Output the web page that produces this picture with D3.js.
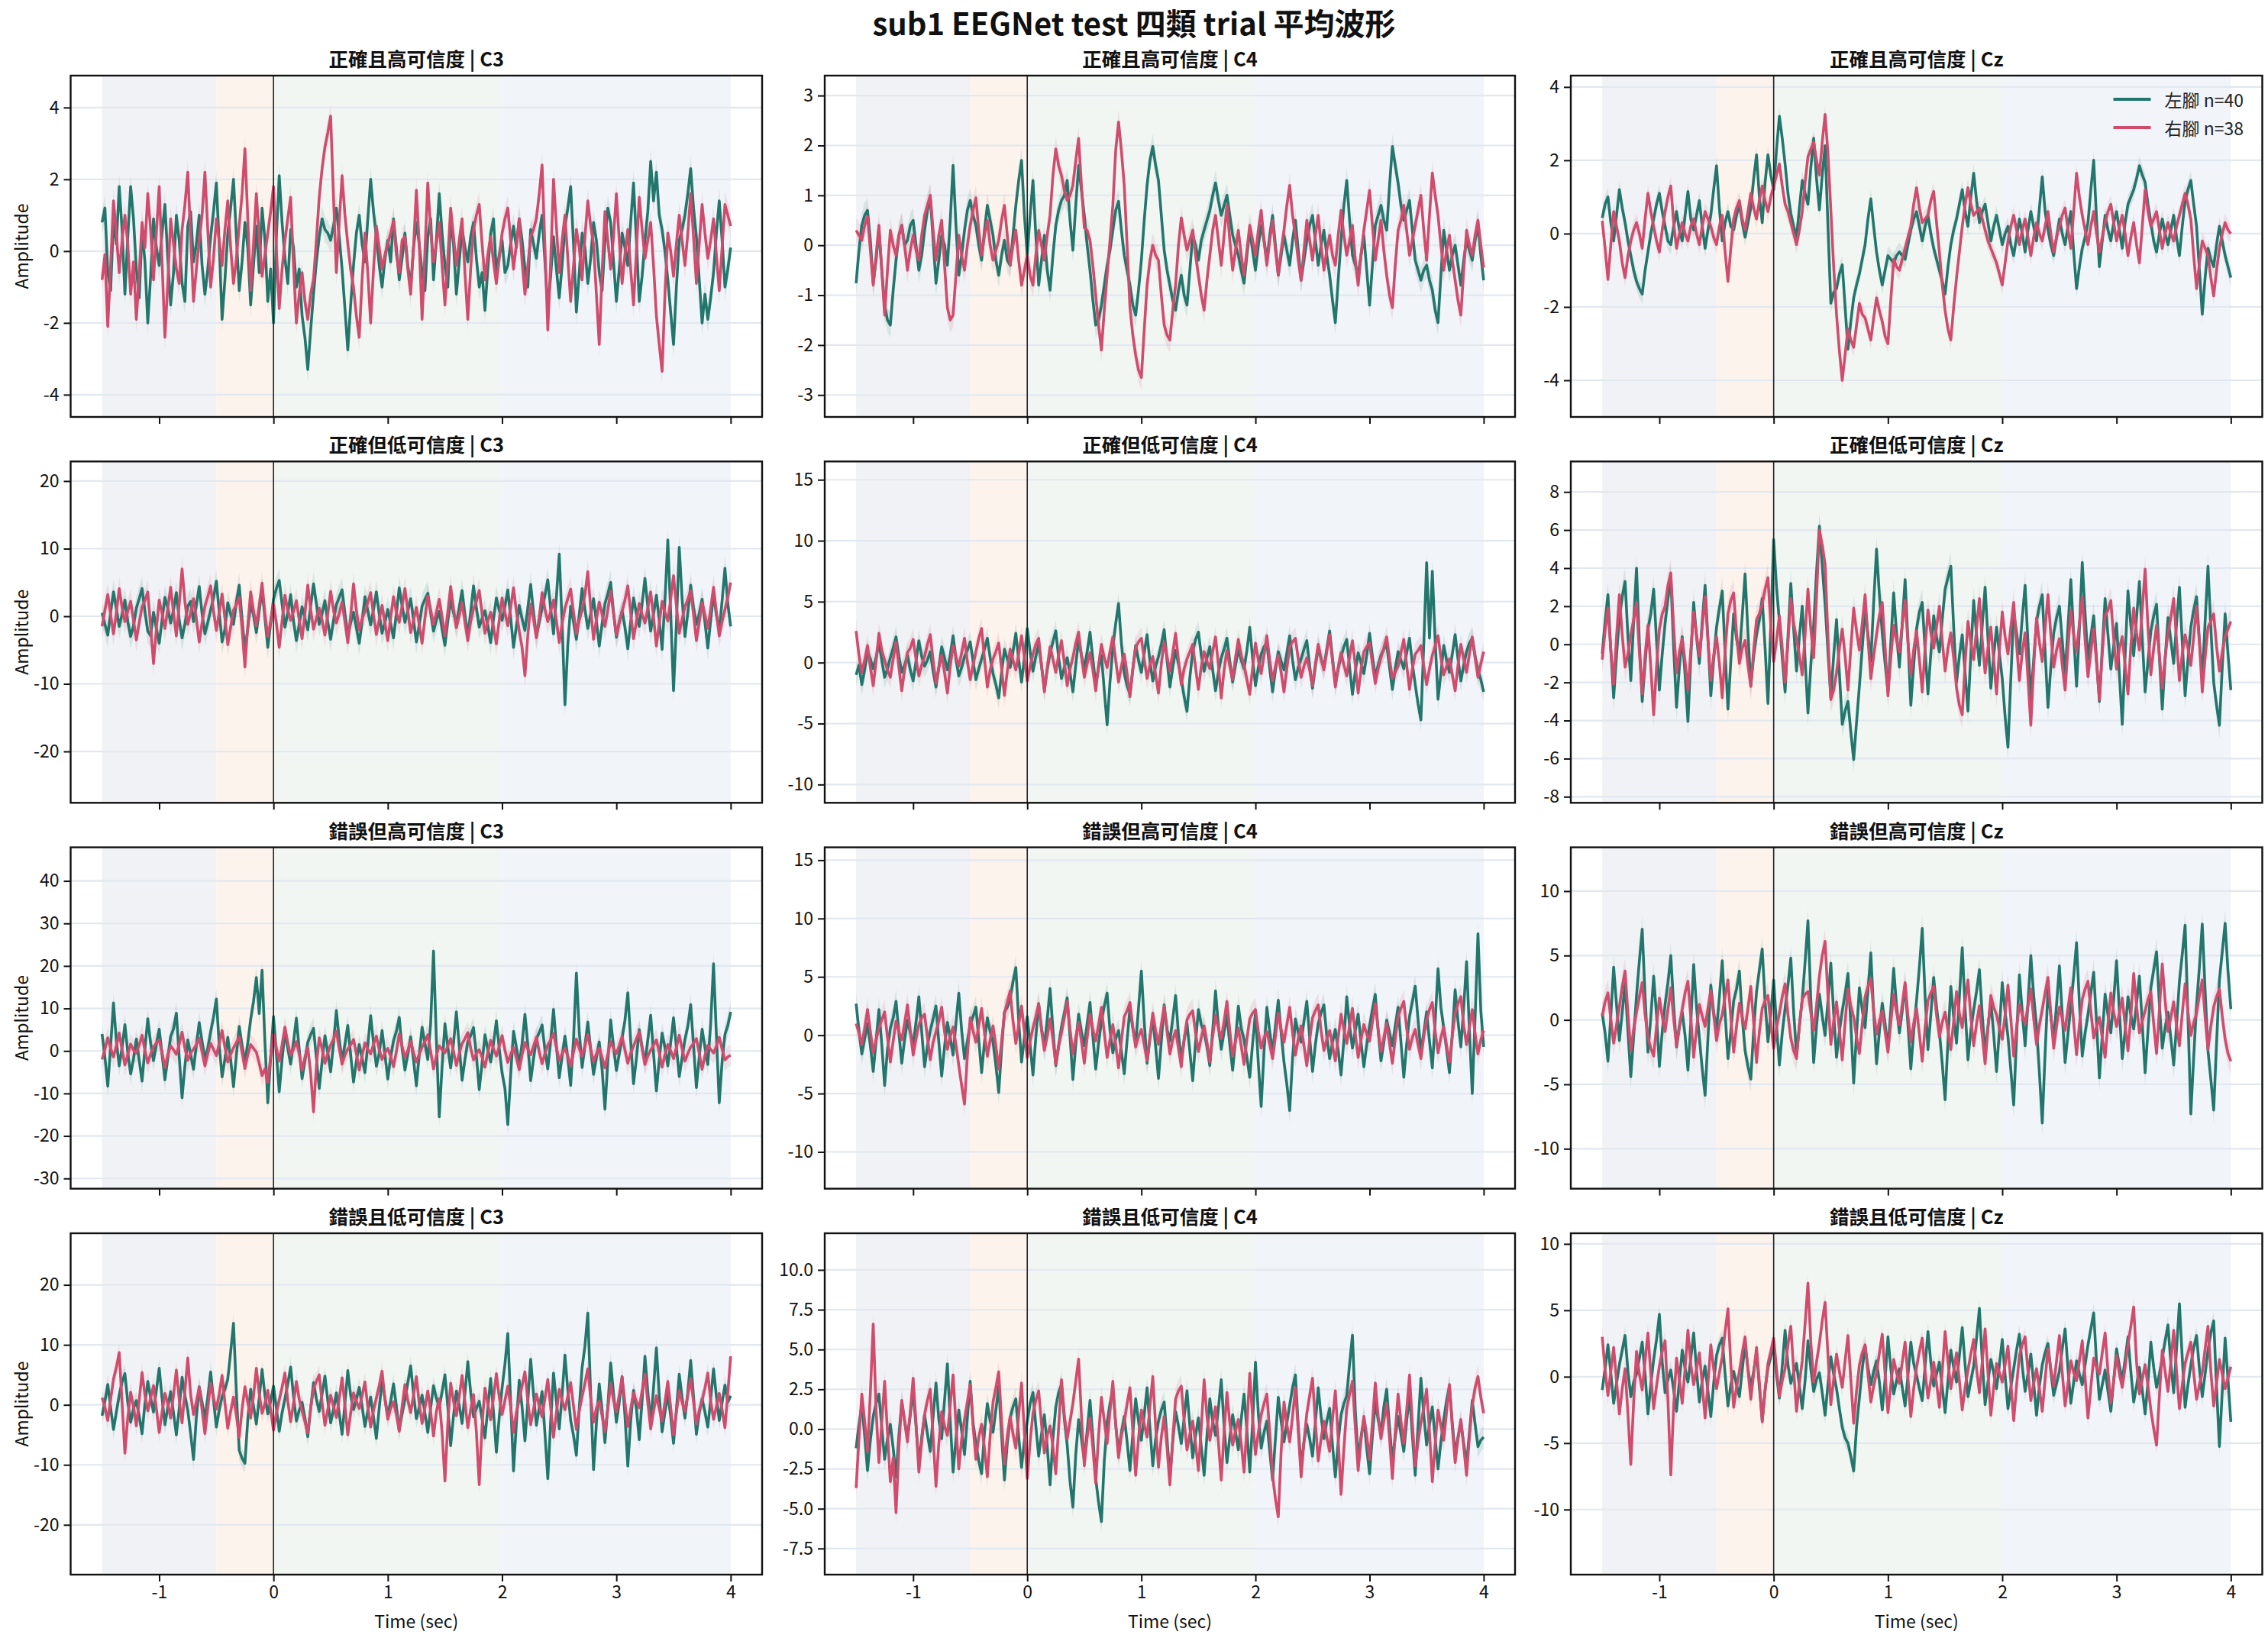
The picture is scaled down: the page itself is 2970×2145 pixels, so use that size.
<!DOCTYPE html>
<html>
<head>
<meta charset="utf-8">
<script src="https://cdn.jsdelivr.net/npm/d3@7"></script>
<style>
  body { margin: 0; background: #fff; }
  svg { display: block; }
  text { font-family: "Noto Sans CJK TC", "Noto Sans", sans-serif; }
</style>
</head>
<body>
<div id="chart"></div>
<script>
// categories / channels
var categories = ["正確且高可信度", "正確但低可信度", "錯誤但高可信度", "錯誤且低可信度"];
var channels = ["C3", "C4", "Cz"];
var seriesNames = ["左腳 n=40", "右腳 n=38"];

// sample times (sec), one every 0.025 s from -1.5 to 4.0
var times = d3.range(221).map(function(i){ return -1.5 + i * 0.025; });
var xTicks = [-1, 0, 1, 2, 3, 4];
var phaseEdges = [-1.5, -0.5, 0, 2, 4];

// y limits per panel, row by row (C3, C4, Cz)
var yLimits = [
  [-4.62, 4.89], [-3.44, 3.40], [-5.0, 4.31],
  [-27.6, 22.9], [-11.5, 16.5], [-8.32, 9.6],
  [-32.4, 47.9], [-13.15, 16.1], [-13.1, 13.4],
  [-28.3, 28.6], [-9.14, 12.3], [-14.9, 10.8]
];
var yTicks = [
  [-4, -2, 0, 2, 4], [-3, -2, -1, 0, 1, 2, 3], [-4, -2, 0, 2, 4],
  [-20, -10, 0, 10, 20], [-10, -5, 0, 5, 10, 15], [-8, -6, -4, -2, 0, 2, 4, 6, 8],
  [-30, -20, -10, 0, 10, 20, 30, 40], [-10, -5, 0, 5, 10, 15], [-10, -5, 0, 5, 10],
  [-20, -10, 0, 10, 20], [-7.5, -5, -2.5, 0, 2.5, 5, 7.5, 10], [-10, -5, 0, 5, 10]
];
// standard error half width per panel
var semL = [0.35, 0.25, 0.25, 1.8, 0.9, 0.7, 2.5, 1.0, 1.0, 1.6, 0.7, 0.7];
var semR = [0.35, 0.25, 0.25, 1.8, 0.9, 0.7, 2.5, 1.0, 1.0, 1.6, 0.7, 0.7];

// ---- row 1: 正確且高可信度 ----
var l_r1_c3 = [0.8,1.2,-0.6,-1.1,0.9,0.2,1.8,0.6,-1.2,0.4,1.8,0.9,-0.5,-1.3,0.6,-0.3,-2.0,-0.7,0.9,0.1,
  -0.4,0.5,1.3,-0.2,-1.5,-0.6,1.0,0.3,-0.9,-1.4,0.7,1.1,-0.3,0.2,1.0,-0.4,-1.2,-0.5,0.4,1.1,
  1.9,0.2,-1.9,-0.8,0.5,1.2,2.0,0.4,-1.1,-0.3,0.8,0.1,-1.5,-0.4,0.7,-0.6,1.2,0.3,-1.4,-0.5,
  -2.0,0.4,2.1,0.8,-0.2,-0.9,0.6,0.1,-1.0,-0.5,-1.8,-2.4,-3.3,-2.2,-1.2,-0.3,0.4,0.9,0.6,0.5,
  0.3,0.7,1.2,0.4,-0.5,-1.6,-2.75,-1.5,-0.4,0.5,1.0,0.2,-0.3,0.9,2.0,1.1,0.4,-0.4,-1.0,-0.2,
  0.3,-0.3,0.9,0.1,-0.8,-0.2,0.5,-0.4,-1.0,0.1,0.8,0.2,-0.6,-1.1,0.4,0.9,-0.8,0.3,1.6,0.5,
  -0.4,-1.0,0.9,0.2,-1.2,-0.3,0.6,0.1,-0.3,0.4,0.8,-0.2,-1.0,-0.6,-1.65,-0.5,0.5,0.9,-0.6,-0.1,
  0.3,-0.6,-0.4,0.2,0.7,0.1,0.9,0.3,-0.5,-1.0,0.6,0.2,-0.2,0.5,1.0,-0.3,-1.6,-0.7,0.4,-0.5,
  -1.3,-0.4,0.7,1.2,1.8,0.2,-1.7,-0.6,0.5,0.1,-0.9,-0.2,0.8,0.3,-0.6,-1.1,0.3,1.2,0.8,-0.3,
  -1.4,-0.5,0.5,0.1,-0.4,0.8,1.9,0.3,-1.4,-0.7,0.3,1.1,2.5,1.4,2.2,1.0,0.6,0.0,-0.8,-1.7,
  -2.6,-1.0,0.3,0.6,1.0,1.6,2.3,1.2,0.4,-0.8,-2.0,-1.2,-1.9,-1.3,-0.6,0.5,1.4,0.3,-1.0,-0.5,0.1];
var r_r1_c3 = [-0.8,-0.1,-2.1,-0.4,1.4,0.5,-0.6,0.3,1.0,0.2,-1.2,-0.3,-1.9,-0.6,0.8,0.1,1.6,0.6,-0.8,0.5,
  1.8,-0.3,-2.4,-0.9,0.9,0.2,-0.5,-0.9,0.6,1.3,2.2,0.4,-1.4,-0.5,0.3,1.0,2.2,0.6,-1.0,-0.2,
  0.9,0.3,-0.4,0.6,1.4,0.1,-0.9,-0.2,0.7,1.6,2.85,0.9,-1.1,0.2,1.6,0.4,-0.7,-0.1,0.5,1.1,
  1.8,0.1,-1.6,-0.5,0.3,0.9,1.5,-0.4,-2.0,-1.2,-0.6,-1.4,-1.9,-1.2,-0.8,0.3,1.5,2.3,2.9,3.3,
  3.76,1.5,-0.6,0.8,2.1,1.0,0.2,-0.5,-1.0,-1.8,-2.4,-0.8,0.5,-0.6,-2.0,-0.5,0.7,0.1,-0.5,-0.1,
  0.2,0.5,0.85,-0.1,-0.6,0.3,0.4,-0.5,-1.2,0.1,1.7,0.2,-1.9,0.0,1.9,0.6,-0.3,0.2,0.8,-0.4,
  -1.5,-0.2,1.2,0.4,-0.4,0.3,0.9,-0.6,-1.9,-0.5,0.6,1.0,1.3,0.2,-0.8,-0.1,0.4,-0.3,-0.9,-0.2,
  0.5,0.9,1.2,0.3,-0.5,0.2,0.9,-0.3,-1.2,-0.4,0.4,0.6,0.9,1.6,2.4,0.1,-2.2,-0.3,2.0,0.7,
  -0.6,0.3,1.0,-0.2,-1.4,-0.4,0.6,0.1,-0.8,0.4,1.4,0.7,0.2,-1.2,-2.6,-0.6,1.1,0.3,-0.5,0.4,
  1.6,0.3,-0.9,-0.1,0.6,-0.5,-1.5,0.0,1.5,0.6,-0.2,0.3,0.8,-0.4,-1.8,-2.6,-3.35,-1.2,0.5,0.0,
  -0.7,0.2,1.0,0.3,-0.4,0.5,1.6,0.4,-0.9,0.2,1.3,0.5,-0.2,0.3,0.9,-0.1,-1.1,0.1,1.3,1.0,0.7];
var l_r1_c4 = [-0.76,-0.1,0.4,0.6,0.7,0.1,-0.76,-0.3,0.3,-0.5,-1.2,-1.5,-1.6,-0.9,-0.3,0.2,0.4,0.0,0.1,0.4,
  0.5,0.0,-0.5,-0.2,0.3,0.7,0.97,0.1,-0.76,-0.3,0.2,0.0,-0.4,0.5,1.6,0.4,-0.6,-0.2,0.3,0.7,
  0.9,0.6,0.4,0.0,-0.3,0.3,0.8,0.5,0.2,-0.3,-0.6,-0.2,0.1,-0.3,-0.4,0.2,0.8,1.3,1.7,0.6,
  -0.2,0.6,1.3,0.2,-0.8,-0.3,0.2,-0.5,-0.9,-0.2,0.4,0.7,0.9,1.0,1.3,0.5,-0.1,0.8,1.6,1.1,
  0.6,0.0,-0.5,-1.1,-1.6,-1.5,-1.2,-0.8,-0.4,-0.1,0.3,0.7,0.88,0.3,-0.2,-0.5,-0.8,-1.2,-1.4,-0.9,
  -0.3,0.5,1.2,1.7,1.98,1.6,1.3,0.6,-0.1,-0.5,-0.8,-1.1,-1.3,-0.9,-0.6,-1.0,-1.2,-0.5,0.2,0.0,
  -0.3,0.1,0.3,0.5,0.7,1.0,1.25,0.9,0.6,0.8,1.0,0.6,0.2,0.0,-0.2,-0.5,-0.76,-0.2,0.3,-0.1,
  -0.5,0.0,0.4,0.1,-0.3,0.2,0.6,0.0,-0.6,-0.2,0.2,-0.1,-0.4,0.1,0.5,-0.1,-0.7,-0.3,0.1,0.4,
  0.6,0.1,-0.4,0.0,0.3,-0.2,-0.6,-1.1,-1.55,-0.7,0.1,0.8,1.3,0.5,-0.2,-0.4,-0.6,-0.2,0.2,-0.5,
  -1.2,-0.4,0.4,0.6,0.8,0.5,0.3,1.2,1.98,1.6,1.25,0.8,0.5,0.7,0.9,0.3,-0.3,-0.5,-0.7,-0.5,
  -0.4,-0.7,-0.9,-1.3,-1.55,-0.6,0.3,-0.1,-0.5,-0.2,0.0,-0.4,-0.8,-0.3,0.1,-0.1,-0.3,0.1,0.4,-0.2,-0.7];
var r_r1_c4 = [0.3,0.2,0.1,0.4,0.57,-0.1,-0.8,-0.2,0.4,-0.5,-1.4,-0.5,0.3,0.0,-0.2,0.2,0.4,0.0,-0.5,-0.1,
  0.2,-0.1,-0.3,0.2,0.6,0.8,1.0,0.3,-0.3,0.2,0.5,-0.4,-1.25,-1.5,-1.4,-0.6,0.2,-0.2,-0.5,0.0,
  0.4,0.7,0.95,0.3,-0.2,0.2,0.5,0.0,-0.3,-0.1,0.1,0.5,0.8,0.2,-0.4,0.0,0.3,-0.3,-0.8,-0.5,
  -0.2,-0.6,-0.8,-0.2,0.3,0.0,-0.3,0.2,0.6,1.4,1.93,1.6,1.4,1.1,0.9,1.0,1.2,1.7,2.14,1.2,
  0.35,0.3,0.1,-0.4,-1.0,-1.6,-2.1,-1.3,-0.6,0.1,0.8,1.9,2.47,1.9,1.2,0.0,-1.25,-1.8,-2.2,-2.5,
  -2.65,-1.7,-0.8,-0.3,0.0,-0.2,-0.3,-1.0,-1.6,-1.8,-1.9,-1.3,-0.8,0.0,0.55,0.2,-0.1,0.1,0.3,-0.2,
  -0.6,-1.0,-1.3,-0.7,-0.2,0.3,0.6,0.1,-0.4,0.2,0.8,0.1,-0.5,-0.1,0.3,-0.2,-0.6,-0.1,0.4,0.1,
  -0.2,0.3,0.7,0.1,-0.4,0.1,0.5,-0.1,-0.6,-0.1,0.3,0.8,1.2,0.6,0.2,-0.3,-0.7,-0.1,0.5,0.1,
  -0.3,0.2,0.6,0.0,-0.5,-0.1,0.2,-0.2,-0.4,0.2,0.7,0.2,-0.2,0.1,0.4,-0.3,-0.8,-0.2,0.3,0.7,
  1.1,0.4,-0.3,0.1,0.5,-0.1,-0.6,-1.0,-1.25,-0.4,0.3,0.5,0.8,0.3,-0.2,0.1,0.4,0.7,1.0,0.3,
  -0.3,0.6,1.45,1.0,0.6,0.0,-0.5,-0.1,0.2,-0.3,-0.7,-1.1,-1.4,-0.5,0.3,0.0,-0.2,0.2,0.5,0.0,-0.45];
var l_r1_cz = [0.43,0.8,1.0,0.3,-0.2,0.5,1.2,0.7,0.3,-0.2,-0.6,-1.0,-1.3,-1.5,-1.65,-1.0,-0.5,0.0,0.4,0.8,
  1.1,0.6,0.2,-0.2,-0.3,0.2,0.6,0.1,-0.2,0.5,1.15,0.4,0.1,0.5,0.9,0.2,-0.4,0.1,0.5,1.2,
  1.85,0.7,-0.2,0.3,0.6,0.2,0.1,0.5,0.8,0.3,-0.1,0.3,0.7,1.5,2.15,1.0,0.3,1.4,2.15,1.6,
  1.2,2.3,3.2,2.6,1.9,1.1,0.55,0.2,-0.1,0.7,1.45,1.1,0.8,1.8,2.6,1.5,0.65,1.6,2.4,0.2,
  -1.9,-1.6,-1.5,-1.1,-0.85,-2.0,-3.15,-2.4,-1.75,-1.4,-1.1,-0.7,-0.3,0.4,0.95,0.2,-0.5,-1.0,-1.4,-1.0,
  -0.6,-0.7,-0.8,-0.6,-0.5,-0.6,-0.7,-0.3,0.1,0.4,0.6,0.2,-0.2,0.2,0.5,0.0,-0.4,-0.7,-1.0,-1.3,
  -1.65,-0.9,-0.3,0.1,0.4,0.8,1.2,0.6,0.2,1.0,1.65,0.9,0.3,0.6,0.8,0.3,-0.2,0.2,0.5,0.1,
  -0.3,0.0,0.2,-0.3,-0.6,-0.1,0.4,0.0,-0.5,0.1,0.6,0.2,-0.2,0.7,1.55,0.6,0.1,-0.3,-0.6,-0.1,
  0.4,0.0,-0.3,0.2,0.6,-0.5,-1.5,-0.9,-0.4,-0.1,0.3,1.2,2.0,0.4,-0.9,-0.2,0.5,0.1,-0.2,0.3,
  0.6,0.1,-0.4,0.3,0.8,1.0,1.2,1.5,1.85,1.6,1.4,0.8,0.3,-0.2,-0.5,0.0,0.4,0.0,-0.3,0.1,
  0.5,-0.1,-0.6,0.2,0.9,1.2,1.45,0.8,0.2,-1.0,-2.2,-1.2,-0.4,-0.7,-0.9,-0.3,0.2,-0.2,-0.6,-0.9,-1.2];
var r_r1_cz = [0.35,-0.4,-1.25,-0.3,0.6,0.2,-0.2,-0.8,-1.2,-0.6,-0.2,0.1,0.3,0.0,-0.4,0.4,1.1,0.6,0.2,-0.2,
  -0.5,0.1,0.6,1.0,1.3,0.3,-0.4,0.0,0.3,0.0,-0.2,0.2,0.4,0.0,-0.3,0.2,0.6,0.4,0.2,-0.1,
  -0.3,0.2,0.5,-0.5,-1.3,-0.4,0.4,0.7,0.9,0.4,0.1,0.6,1.1,0.7,0.4,0.9,1.3,0.9,0.6,1.0,
  1.3,1.6,1.9,1.3,0.8,0.6,0.3,0.0,-0.3,0.1,0.6,1.4,2.1,2.3,2.5,2.0,1.6,2.5,3.25,2.2,
  0.65,-0.9,-2.2,-3.2,-4.0,-3.3,-2.6,-2.9,-3.1,-2.5,-1.9,-2.2,-2.3,-2.6,-2.9,-2.3,-1.75,-2.1,-2.4,-2.8,
  -3.0,-1.8,-0.7,-0.9,-1.0,-0.7,-0.4,-0.1,0.2,0.8,1.25,0.7,0.3,0.4,0.5,0.9,1.15,0.3,-0.5,-1.4,
  -2.1,-2.6,-2.9,-2.0,-1.2,-0.5,0.2,0.8,1.25,0.8,0.5,0.6,0.7,0.4,0.1,-0.2,-0.4,-0.6,-0.8,-1.1,
  -1.4,-0.8,-0.2,0.2,0.5,0.1,-0.3,0.1,0.4,-0.1,-0.6,-0.1,0.3,0.0,-0.2,0.2,0.6,0.0,-0.5,-0.1,
  0.2,0.5,0.7,0.1,-0.4,0.6,1.65,1.0,0.5,0.1,-0.3,0.2,0.6,0.0,-0.5,-0.1,0.3,0.6,0.8,0.3,
  -0.2,0.2,0.5,0.0,-0.6,-0.1,0.3,-0.3,-0.8,0.2,1.2,0.6,0.2,0.4,0.6,0.1,-0.4,0.0,0.3,0.0,
  -0.2,0.2,0.5,0.8,1.1,0.8,0.4,-0.6,-1.5,-0.8,-0.2,-0.4,-0.6,-1.2,-1.7,-1.0,-0.4,0.0,0.3,0.1,0.0];

// ---- row 2: 正確但低可信度 ----
var l_r2_c3 = [0.5,-1.2,-2.8,0.6,3.6,1.1,-1.5,0.3,2.4,-0.8,-3.0,-1.4,1.2,2.6,4.1,0.7,-2.2,-2.9,0.6,-1.8,
  -4.0,-0.5,2.8,1.2,-1.0,0.9,3.5,-0.6,-3.2,-1.1,1.5,2.2,-0.8,1.6,4.4,0.4,-2.6,-0.9,0.9,2.7,
  5.2,0.6,-3.8,-1.9,2.0,0.3,-1.2,2.1,4.6,-0.4,-5.1,-1.8,1.8,0.2,-2.4,0.8,3.9,-0.3,-4.6,-1.0,
  2.5,4.1,5.3,1.8,-1.6,0.5,3.2,-0.7,-3.6,-1.2,1.4,-0.3,-2.0,1.5,4.8,1.9,-1.2,0.4,2.3,-0.9,
  -3.4,-0.6,1.7,2.8,3.9,0.4,-2.8,-1.0,0.6,-1.7,-4.0,-0.8,2.9,0.8,-1.3,1.0,3.6,0.3,-2.5,-0.9,
  1.0,-1.1,-3.2,0.4,4.2,1.6,-0.9,0.8,2.6,-0.5,-3.8,-1.3,1.5,2.5,3.4,0.5,-2.2,-0.6,0.7,-1.9,
  -4.3,-0.7,2.4,0.5,-1.1,1.3,3.8,0.2,-2.9,0.6,4.5,1.2,-1.6,-0.3,0.8,-1.4,-3.9,-0.4,2.7,0.9,
  -0.6,1.5,3.9,-0.2,-4.6,-1.5,1.6,-0.4,-2.1,1.2,4.7,0.6,-3.0,-0.9,1.2,3.1,5.4,1.1,-2.6,2.8,
  9.2,-1.0,-13.1,-4.2,1.5,-0.8,-3.4,0.2,4.1,1.0,-1.8,0.3,2.6,-0.7,-4.4,-1.1,1.9,3.3,5.0,0.6,
  -3.1,-0.9,0.8,-1.6,-4.8,-0.8,2.7,0.4,-1.5,1.8,5.6,1.4,-2.2,0.3,3.1,-0.6,-4.9,2.4,11.3,0.5,
  -11.0,-1.2,10.2,2.6,-3.0,0.5,4.6,1.3,-1.2,0.4,2.5,-0.9,-4.7,-0.6,3.3,0.2,-2.1,2.3,7.1,1.8,-1.5];
var r_r2_c3 = [-1.5,0.9,3.2,0.2,-2.6,0.5,4.1,1.3,-0.8,0.7,2.2,-0.6,-3.5,-0.9,1.4,2.3,3.6,-1.5,-7.0,-1.9,
  2.4,0.4,-1.8,1.1,4.3,0.6,-2.9,1.8,7.0,2.1,-1.2,0.5,2.6,-0.4,-3.8,-1.0,1.5,2.9,4.5,0.8,
  -2.1,0.5,3.3,-0.3,-4.2,-1.6,0.9,1.7,2.8,-1.9,-7.5,-1.4,3.6,0.8,-1.4,1.6,4.9,0.4,-3.0,-0.8,
  1.8,-1.0,-4.6,-0.7,3.1,0.9,-0.6,0.7,2.3,-0.5,-3.3,0.4,4.6,1.0,-1.9,-0.3,1.2,-0.6,-2.8,0.3,
  3.7,0.9,-1.0,0.4,2.1,-0.8,-3.9,0.1,4.8,0.9,-2.0,-0.4,0.7,2.0,3.5,0.2,-2.7,-0.5,1.6,-1.0,
  -3.6,-0.2,2.9,0.6,-0.9,1.5,4.1,0.8,-2.4,-0.6,1.3,-1.2,-4.0,-0.3,3.0,0.9,-1.2,0.6,2.5,-0.1,
  -2.9,0.6,4.4,1.1,-1.7,0.1,2.0,-0.9,-3.6,-0.8,1.1,2.2,3.8,0.4,-2.5,-0.7,0.6,-1.6,-4.1,-0.6,
  2.7,0.5,-1.4,1.3,4.2,0.7,-2.2,-4.6,-8.8,-2.9,1.8,-0.4,-3.2,-0.2,3.5,1.0,-0.8,0.7,2.4,-0.6,
  -3.9,-1.1,1.2,2.6,4.0,0.6,-2.6,-0.6,0.9,3.2,6.6,1.2,-3.4,-0.5,2.1,0.3,-1.5,0.9,3.7,0.4,
  -2.8,-0.9,0.7,2.4,4.5,0.5,-3.3,-0.8,1.9,0.3,-1.0,1.2,3.6,-0.1,-4.4,-1.0,2.2,0.6,-0.7,2.5,
  6.0,1.6,-2.5,-0.4,1.4,2.5,3.8,0.3,-3.6,-0.9,2.0,0.2,-1.8,1.1,4.3,0.6,-2.9,-0.8,1.0,2.8,5.0];
var l_r2_c4 = [-1.0,-0.2,-1.8,-0.6,0.9,0.3,-0.5,0.4,1.6,0.2,-1.2,-0.5,0.4,1.2,2.1,0.5,-0.8,-0.2,0.6,-0.6,
  -1.5,0.1,1.8,0.5,-0.3,0.2,0.9,-0.7,-2.0,-0.4,1.3,0.4,-0.6,0.6,2.2,0.3,-1.1,-0.4,0.5,1.0,
  1.7,0.1,-1.4,-0.5,0.3,1.1,2.0,0.4,-0.9,-1.8,-2.9,-0.8,1.1,0.3,-0.4,0.9,2.4,0.2,-1.6,0.4,
  2.8,0.9,-0.7,0.5,1.5,-0.3,-2.2,-0.6,0.8,1.7,2.6,0.4,-1.3,-0.4,0.4,-0.9,-2.4,-0.2,1.9,0.6,
  -0.5,0.9,2.5,0.3,-1.8,-0.4,0.6,-2.3,-5.1,-1.6,1.2,3.2,4.85,1.6,-0.9,-1.9,-2.6,-0.5,1.4,0.2,
  -0.8,0.8,2.3,0.1,-1.5,-0.3,0.5,1.5,2.7,0.2,-2.0,-0.4,1.0,-0.1,-1.3,-2.8,-4.0,-1.2,0.9,1.9,
  2.5,0.6,-0.7,0.4,1.3,-0.6,-2.3,-0.8,0.4,1.1,2.0,0.1,-1.6,-0.2,1.1,0.2,-0.5,1.0,2.9,0.3,
  -1.9,-0.4,0.7,1.3,1.6,-0.5,-2.4,-0.6,0.9,0.1,-0.6,0.8,2.2,0.2,-1.4,-0.4,0.3,1.1,1.8,-0.3,
  -2.1,-0.3,1.2,0.3,-0.4,1.1,2.6,0.4,-1.7,-0.5,0.5,1.3,1.9,-0.4,-2.6,-0.7,0.8,0.0,-0.9,0.6,
  2.4,0.5,-1.2,-0.2,0.6,1.1,1.5,-0.4,-2.2,-0.5,0.9,0.2,-0.5,0.8,2.0,-0.1,-1.8,-3.4,-4.7,1.5,
  8.2,2.0,7.5,1.8,-3.0,-0.9,1.4,0.2,-0.8,0.7,2.3,0.3,-1.5,-0.2,0.9,1.6,2.0,0.5,-0.6,-1.4,-2.4];
var r_r2_c4 = [2.6,0.6,-0.8,0.2,1.4,-0.4,-1.9,0.1,2.4,1.0,0.2,-0.6,-1.2,0.3,1.7,-0.4,-2.3,-0.6,0.8,1.2,
  1.9,0.3,-1.1,-0.2,0.5,1.5,2.3,0.2,-1.7,-0.4,0.6,-0.8,-2.5,-0.3,1.4,0.5,-0.3,0.8,2.0,0.1,
  -1.4,-0.2,0.9,2.0,2.8,0.3,-2.0,-0.6,0.3,0.9,1.6,-0.5,-2.7,-0.7,1.1,0.2,-0.6,0.7,2.2,0.4,
  -1.5,-0.3,0.7,1.5,2.0,-0.2,-2.4,-0.4,1.3,0.3,-0.8,0.6,1.8,0.0,-1.9,-0.5,0.4,1.6,2.5,0.5,
  -1.2,-0.1,0.8,-0.6,-2.3,-0.2,1.5,0.4,-0.4,0.9,2.1,0.2,-1.6,-0.3,0.7,-0.9,-2.8,-0.6,1.2,1.7,
  2.0,0.3,-1.3,-0.2,0.5,-1.0,-2.5,-0.1,1.7,0.5,-0.7,0.8,2.4,0.2,-1.8,-0.5,0.3,0.9,1.5,-0.4,
  -2.2,-0.3,0.9,0.1,-0.5,0.9,2.1,-0.2,-2.9,-0.6,1.0,-0.3,-1.4,0.4,1.9,0.6,-0.2,-1.4,-2.6,-0.4,
  1.6,0.2,-0.9,0.6,2.2,0.2,-1.5,-0.3,0.6,-0.8,-2.4,-0.5,1.3,1.7,2.0,0.3,-1.2,-0.3,0.4,-0.6,
  -1.9,-0.1,1.5,0.3,-0.6,0.9,2.3,0.1,-2.0,-0.4,0.8,-0.2,-1.1,0.5,1.8,-0.2,-2.5,-0.6,0.9,1.3,
  1.6,-0.1,-1.7,-0.5,0.4,1.2,2.1,0.3,-1.3,-0.8,-0.3,0.8,1.9,-0.2,-2.2,-0.5,0.7,1.0,1.4,-0.3,
  -1.8,-0.5,0.6,1.4,2.2,0.4,-1.0,-0.3,0.3,-1.0,-2.3,-0.2,1.5,0.3,-0.8,0.7,2.1,0.4,-1.2,-0.1,0.9];
var l_r2_cz = [-0.5,1.2,2.6,-0.3,-2.8,-0.6,1.4,2.5,3.3,0.4,-1.9,1.2,4.0,0.1,-3.0,-1.0,0.8,1.6,2.9,0.2,
  -2.4,-0.5,1.1,2.4,3.5,-0.2,-3.3,-1.2,0.4,-1.6,-4.05,-0.7,2.2,0.4,-1.0,1.2,3.1,0.3,-2.7,-0.8,
  0.9,1.9,2.8,-0.4,-3.4,-0.9,1.6,0.3,-0.6,1.5,3.7,0.6,-2.2,-0.6,0.5,1.3,2.4,-0.2,-3.1,1.0,
  5.5,3.0,1.2,-0.7,-2.5,0.4,3.2,0.8,-1.4,0.4,2.0,-0.8,-3.6,-1.1,1.0,3.8,6.2,4.1,2.1,-0.4,
  -2.8,-0.6,1.3,-1.5,-4.2,-3.5,-3.0,-4.6,-6.05,-4.1,-2.2,-0.2,1.8,0.5,-0.9,2.2,5.0,2.6,0.6,-1.0,
  -2.5,0.1,2.7,0.6,-1.2,1.1,3.4,0.2,-3.2,-1.1,0.8,1.7,2.2,-0.3,-2.6,-0.5,1.5,0.4,-0.4,1.3,
  2.9,3.5,4.1,0.9,-2.0,-0.6,0.5,-1.5,-3.5,-0.5,2.3,0.5,-1.1,1.0,3.0,0.3,-2.3,-0.6,0.9,-0.5,
  -1.8,-3.8,-5.4,-1.8,1.7,0.6,-0.5,1.4,3.1,0.1,-2.9,-0.8,1.2,2.0,2.6,-0.4,-3.3,-1.2,0.6,1.4,
  2.0,0.2,-1.6,0.9,3.4,0.5,-2.2,0.8,4.3,1.6,-0.8,0.4,1.5,-0.8,-3.0,-0.2,2.4,0.5,-1.3,-0.1,
  1.1,-1.6,-4.2,-0.6,2.8,1.0,-0.6,1.4,3.3,0.3,-2.5,-0.9,0.7,1.5,2.1,-0.7,-3.4,-0.8,1.4,0.2,
  -1.0,1.1,3.0,0.1,-2.7,-0.8,0.9,1.8,2.5,0.2,-1.8,1.2,4.1,0.9,-2.0,-3.2,-4.25,-1.2,1.6,-0.5,-2.4];
var r_r2_cz = [-0.8,0.7,1.9,-0.3,-2.1,0.4,2.6,0.5,-1.2,-0.5,0.5,1.3,2.2,-0.4,-2.6,-0.6,1.0,-1.2,-3.7,-1.2,
  0.8,1.6,2.0,3.1,3.75,0.9,-1.5,-0.4,0.3,-0.9,-2.4,-0.3,1.7,0.5,-0.6,0.9,2.5,0.2,-1.9,-0.6,
  0.4,-1.0,-2.8,-0.4,1.6,2.3,2.7,0.6,-1.0,-0.2,0.2,-1.1,-2.2,-0.3,1.3,1.6,2.1,2.9,3.5,1.0,
  -0.9,0.2,1.5,-0.2,-2.0,0.1,2.4,1.1,0.3,-0.6,-1.6,0.5,2.9,0.8,-0.7,2.5,6.0,5.2,4.2,0.4,
  -2.9,-2.4,-1.5,-0.2,0.8,-0.6,-2.4,-0.2,1.9,0.7,-0.3,1.1,2.6,0.3,-1.8,-0.6,0.5,1.5,2.2,-0.1,
  -2.7,-0.7,1.0,0.2,-0.4,1.0,2.3,0.1,-1.6,-0.3,0.7,-0.8,-2.5,-0.2,1.8,0.6,-0.2,0.9,2.0,0.2,
  -1.4,-0.2,0.6,-0.7,-2.3,-3.2,-3.7,-1.0,1.2,0.1,-0.8,0.8,2.4,0.2,-1.5,-0.2,0.9,-0.8,-2.6,-0.3,
  1.7,0.4,-0.5,0.9,2.2,0.0,-1.9,-0.4,0.6,-1.8,-4.25,-1.2,1.4,0.1,-0.9,0.8,2.6,0.5,-1.2,-0.3,
  0.3,-1.1,-2.4,-0.2,1.8,0.5,-0.4,1.1,2.5,0.2,-1.7,-0.4,0.8,-1.0,-2.9,-0.5,1.5,1.8,2.3,0.3,
  -1.3,-0.2,0.4,-1.1,-2.6,-0.1,1.9,0.6,-0.3,1.8,3.95,0.9,-1.6,-0.2,1.0,-0.6,-2.3,-0.7,0.6,1.4,
  2.4,0.2,-1.9,-0.5,0.5,-0.2,-1.1,0.4,2.0,0.1,-2.5,-0.7,0.9,1.2,1.6,-0.1,-1.4,-0.4,0.4,0.8,1.2];

// ---- row 3: 錯誤但高可信度 ----
var l_r3_c3 = [4.0,-1.5,-8.3,1.2,11.3,2.4,-3.5,0.8,6.2,-0.4,-5.4,-1.9,2.8,-2.2,-7.1,0.5,7.6,1.8,-2.3,1.6,
  5.1,-0.8,-6.8,-1.7,3.4,5.2,8.9,-1.4,-11.0,-3.5,2.6,-0.9,-4.3,1.3,6.7,2.2,-1.8,0.6,4.5,7.9,
  12.2,1.4,-6.1,-1.9,3.2,-2.0,-8.4,-1.1,5.8,1.3,-2.7,1.9,7.4,11.6,17.3,8.8,19.0,2.1,-12.2,-1.7,
  8.1,-0.6,-9.6,-2.0,4.4,0.7,-3.1,2.1,7.7,0.4,-6.5,-2.3,2.0,3.8,5.3,-1.6,-8.8,-2.5,3.6,-0.4,
  -4.9,1.8,9.5,2.8,-2.4,1.6,6.0,-0.9,-7.3,-2.4,1.5,-1.7,-5.1,1.4,8.3,1.9,-3.6,-0.5,4.8,-0.8,
  -6.6,-1.4,2.4,4.6,7.9,0.6,-4.5,-0.8,3.3,-2.1,-8.2,-0.9,5.6,1.7,-2.0,6.5,23.5,2.5,-15.5,-3.6,
  6.4,0.9,-4.0,1.8,9.2,1.1,-6.9,-2.0,2.2,3.6,5.5,-1.1,-9.1,-2.8,3.8,0.3,-2.6,1.7,7.1,0.6,
  -5.2,-8.8,-17.3,-5.6,4.6,0.9,-3.3,1.8,8.6,1.5,-7.0,-1.9,2.9,4.3,6.1,0.2,-4.2,2.3,9.8,1.3,
  -6.3,-1.2,3.5,-1.7,-8.1,2.8,18.3,4.6,-3.9,1.2,6.8,0.4,-5.5,-1.5,2.1,-4.4,-13.7,-2.6,7.3,1.0,
  -4.6,-0.7,3.0,7.2,13.7,2.4,-7.7,-1.8,5.0,0.9,-2.8,2.6,8.4,-0.5,-9.4,-2.1,4.2,0.8,-3.5,1.9,
  7.8,0.9,-6.0,-1.6,2.7,5.8,10.9,1.3,-8.6,-1.4,5.1,0.8,-3.2,6.4,20.5,3.7,-12.2,-2.5,3.9,6.0,9.2];
var r_r3_c3 = [-2.0,0.4,3.1,0.6,-1.4,1.2,4.2,0.3,-3.3,-0.8,1.6,0.2,-0.5,1.4,3.7,0.1,-2.8,-0.7,0.9,1.9,
  2.6,-0.4,-3.9,-0.9,1.2,0.3,-0.8,1.6,4.4,0.6,-2.2,-0.5,0.4,1.5,3.0,-0.2,-3.5,-0.6,1.8,0.4,
  -1.1,1.7,4.8,0.9,-2.6,-0.8,0.7,2.0,3.3,-0.3,-4.1,-0.9,1.5,0.6,-0.3,-2.9,-5.8,-4.2,-7.4,-1.3,
  3.9,0.7,-2.4,1.4,5.6,1.8,-1.0,0.4,2.2,-0.7,-4.6,-1.5,0.8,-5.2,-14.3,-3.5,3.1,0.5,-2.9,-0.6,
  1.4,2.8,4.6,0.6,-3.1,-1.0,0.5,1.4,2.7,-0.6,-4.5,-1.2,1.9,0.4,-0.7,1.5,3.5,0.3,-2.0,-0.5,
  0.6,-1.3,-3.7,-0.2,4.0,1.1,-1.5,0.1,2.3,-0.4,-2.6,-0.8,0.9,2.2,3.8,-0.1,-4.2,-1.1,1.2,0.3,
  -0.4,1.1,2.9,-0.1,-3.4,-0.6,1.7,2.9,4.3,0.7,-2.1,-0.6,0.3,-1.5,-3.8,-0.4,2.5,0.5,-1.2,1.1,
  3.6,0.2,-2.7,-0.8,0.8,-1.6,-4.4,-0.9,2.0,0.4,-0.9,1.1,3.2,-0.2,-3.0,-0.6,1.4,2.6,4.1,0.8,
  -2.3,-0.6,0.6,-1.2,-3.6,-0.3,2.8,0.6,-1.3,1.2,3.9,0.4,-2.5,-0.7,0.7,-1.5,-4.0,-0.8,2.2,0.6,
  -0.6,1.3,3.4,0.2,-2.9,-0.5,1.1,2.8,4.5,0.6,-3.2,-1.2,0.2,1.3,2.6,-0.4,-3.8,-0.9,1.5,0.1,
  -1.8,0.8,3.7,0.5,-2.4,-0.6,0.9,1.8,2.9,-0.5,-4.3,-1.1,1.3,0.4,-0.5,1.2,3.2,0.4,-2.1,-1.4,-1.0];
var l_r3_c4 = [2.7,0.4,-1.6,-0.3,1.0,-0.9,-3.1,-0.5,2.2,-0.8,-4.3,-1.2,0.6,1.5,2.9,0.2,-2.4,-0.4,1.3,0.2,
  -0.8,1.1,3.3,0.3,-2.7,-0.9,0.4,1.4,2.5,-0.6,-3.5,-1.0,1.1,-0.2,-1.7,1.0,3.6,0.4,-2.0,-0.5,
  0.9,1.6,2.4,-0.4,-3.2,-0.6,1.5,0.3,-0.6,-2.6,-4.9,-1.2,2.0,2.4,3.1,4.6,5.8,1.2,-2.3,-0.2,
  1.6,-0.8,-3.4,-0.2,2.7,0.6,-1.0,1.4,4.0,0.5,-2.6,-0.9,0.7,1.9,3.2,-0.2,-3.8,-0.8,1.8,0.3,
  -0.9,1.0,2.8,-0.1,-2.9,-0.7,1.2,2.5,3.6,0.4,-1.5,-0.3,0.4,-1.4,-3.3,-0.4,2.3,0.6,-0.7,2.3,
  5.5,1.2,-2.4,-0.3,1.5,-1.0,-3.7,-0.5,2.6,0.5,-0.5,1.4,3.4,0.1,-2.1,-0.4,1.0,-1.4,-3.9,-0.6,
  2.2,0.9,0.3,-1.0,-2.6,0.4,3.8,0.8,-1.2,0.3,1.7,-0.8,-3.0,-0.4,2.5,0.6,-0.4,-1.9,-3.6,-0.7,
  1.9,-2.4,-6.1,-1.4,2.4,0.3,-1.5,0.8,3.0,0.2,-2.3,-4.2,-6.45,-2.0,1.4,0.2,-0.6,1.2,2.9,-0.2,
  -3.1,-0.8,1.0,1.9,2.6,-0.1,-2.0,-0.6,0.5,-1.3,-3.4,-0.4,3.3,0.8,-1.1,0.4,1.8,-0.6,-2.7,-0.8,
  0.8,2.2,3.5,0.4,-2.2,-0.6,1.3,0.2,-0.9,0.8,2.4,-0.6,-3.6,-0.8,1.6,2.9,4.2,1.3,-1.4,0.2,
  2.0,-0.5,-2.8,1.2,5.7,2.4,0.6,-1.2,-3.2,0.1,3.9,1.2,-1.0,2.4,6.3,0.4,-5.0,1.6,8.7,2.1,-1.0];
var r_r3_c4 = [1.0,0.2,-0.8,0.6,2.2,0.3,-1.5,-0.4,0.6,1.3,2.0,-0.2,-2.3,-0.5,1.2,0.3,-0.4,1.0,2.6,0.4,
  -1.7,-0.3,0.9,1.5,1.8,-0.2,-2.1,-0.6,0.3,1.2,2.4,0.3,-1.2,-0.1,0.7,-0.8,-2.6,-4.3,-5.9,-1.8,
  1.5,0.4,-0.6,0.8,2.3,0.2,-1.8,-0.4,0.8,-0.9,-2.9,-0.5,1.9,2.8,3.8,1.2,-0.7,0.9,2.5,0.3,
  -1.9,-0.5,0.6,1.6,2.7,0.4,-1.3,-0.1,1.4,-0.4,-2.5,-0.9,0.2,1.5,2.9,0.5,-1.6,-0.2,1.1,-0.5,
  -2.4,-0.2,1.8,0.5,-0.5,0.9,2.4,0.2,-1.9,-0.4,0.9,-0.8,-2.8,-0.5,1.6,2.1,2.8,0.7,-1.0,-0.1,
  0.5,-0.8,-2.2,-0.1,1.9,0.4,-0.8,0.9,2.5,0.3,-1.6,-0.4,0.4,-1.1,-2.7,-0.3,1.3,1.8,2.1,0.2,
  -1.4,-0.2,0.8,-0.6,-2.3,-0.1,1.7,0.6,-0.3,1.2,2.9,0.4,-1.8,-0.5,0.6,-0.9,-2.5,-0.3,1.4,1.9,
  2.2,0.3,-1.1,-0.2,0.3,-0.8,-2.0,-0.1,1.9,0.5,-0.6,0.9,2.4,0.2,-1.7,-0.3,0.8,-0.9,-2.6,-0.4,
  1.5,2.1,2.6,0.4,-1.3,-0.3,0.4,-0.9,-2.2,-0.2,1.8,0.5,-0.7,0.8,2.3,0.1,-1.9,-0.4,0.9,0.1,
  -0.5,1.1,2.7,0.5,-1.4,-0.2,1.0,-0.7,-2.4,-0.3,1.6,2.3,2.9,0.6,-1.2,-0.2,0.5,-0.8,-2.0,-0.1,
  1.3,2.2,2.8,0.3,-1.5,-0.2,0.7,-0.9,-2.3,-0.1,1.9,2.7,3.3,0.8,-0.8,0.7,2.2,0.1,-1.6,-0.4,0.4];
var l_r3_cz = [0.5,-1.0,-3.2,0.3,4.1,1.2,-1.6,0.6,2.8,-0.9,-4.4,-1.3,1.9,4.6,7.05,1.8,-2.5,0.2,3.4,0.4,
  -3.6,-0.9,1.2,2.9,5.0,1.1,-2.1,-0.5,0.6,-1.2,-3.9,-0.2,4.3,1.0,-1.4,-3.8,-5.85,-1.4,2.7,0.6,
  -0.8,1.8,4.6,0.5,-3.0,-0.9,1.5,2.4,3.8,0.2,-2.4,-3.6,-4.6,-0.8,2.2,3.9,5.5,1.4,-1.7,0.5,
  3.1,-0.4,-3.5,-1.0,0.9,2.7,4.8,0.6,-2.7,-0.4,1.6,4.5,7.7,1.6,-3.3,-0.5,2.0,0.3,-1.2,1.5,
  4.4,0.5,-2.9,-0.9,0.7,2.0,3.6,-0.3,-4.9,-1.1,2.5,0.8,-0.6,2.3,5.2,0.6,-3.4,-0.9,1.3,-0.3,
  -2.2,0.8,4.0,1.1,-1.0,0.7,2.7,-0.4,-3.8,-0.9,1.5,4.1,7.1,1.8,-2.3,0.4,3.3,1.0,-0.9,-3.4,
  -6.2,-1.6,2.6,0.2,-1.8,1.8,5.6,0.9,-3.1,-0.8,0.8,2.2,3.9,0.4,-2.6,-0.5,1.4,-1.1,-4.0,-0.8,
  2.9,0.6,-1.3,-3.9,-6.6,-1.4,3.5,0.6,-2.0,1.3,5.0,1.9,-0.5,-4.1,-8.0,-2.6,2.4,0.3,-1.6,1.2,
  4.2,0.4,-3.3,-1.1,1.1,3.4,6.0,1.3,-2.8,-1.0,0.4,2.1,3.7,-0.2,-4.5,-1.2,2.0,0.4,-1.0,1.6,
  4.6,0.6,-3.0,-0.9,1.8,0.4,-0.7,1.3,3.4,-0.3,-4.1,-0.8,2.5,3.9,5.3,1.2,-2.2,-0.6,0.6,-1.4,
  -3.5,-0.4,3.0,5.1,7.35,0.2,-7.3,-2.9,1.2,4.1,7.45,2.3,-2.4,-4.6,-7.0,-1.8,3.1,5.3,7.5,3.8,0.85];
var r_r3_cz = [0.3,1.4,2.1,0.1,-1.8,-0.4,1.0,2.6,3.8,0.5,-2.4,-0.7,0.6,1.8,2.9,0.4,-1.3,-2.2,-2.8,-0.5,
  1.7,0.3,-0.9,0.8,2.5,0.1,-2.0,-0.5,0.8,2.1,3.0,0.2,-2.9,-0.7,1.2,0.3,-0.5,0.9,2.3,0.4,
  -1.6,-0.3,0.4,1.8,3.1,0.2,-2.5,-0.5,1.3,0.2,-0.7,0.9,2.6,-0.2,-3.3,-0.9,0.9,1.5,1.9,-0.3,
  -2.2,-0.6,0.5,1.8,2.8,0.4,-1.4,-2.4,-3.0,-0.5,1.6,2.0,2.2,0.6,-0.8,1.1,3.4,5.0,6.1,1.8,
  -1.9,-0.1,1.4,-0.8,-3.1,-0.2,2.4,1.1,0.2,-1.3,-2.6,-0.3,1.8,2.6,3.2,0.7,-1.1,-0.1,0.7,-0.9,
  -2.5,-0.2,2.0,0.6,-0.4,1.2,2.9,0.3,-1.7,-0.3,0.9,-1.1,-3.2,-0.6,1.5,2.1,2.6,0.4,-1.3,-0.2,
  0.6,-0.8,-2.3,-0.1,2.2,0.5,-0.6,1.4,3.1,0.2,-2.0,-0.3,1.1,-1.2,-3.4,-0.7,1.9,1.0,0.4,-0.6,
  -1.5,0.4,2.7,0.1,-2.8,-0.6,1.2,0.4,-0.3,1.1,2.4,0.1,-1.9,-0.4,0.8,2.1,3.3,0.5,-2.2,-0.5,
  1.0,0.1,-0.8,0.9,2.5,-0.2,-2.7,-0.4,1.6,2.4,3.0,0.7,-1.4,-0.5,0.2,-1.4,-2.9,-0.3,2.1,0.6,
  -0.5,0.5,1.7,-0.4,-2.4,0.3,3.6,1.1,-1.0,-0.1,0.7,1.6,2.2,-0.3,-2.6,0.8,4.35,1.5,-0.9,0.2,
  1.4,-0.4,-2.0,0.5,2.8,0.6,-1.2,-0.2,0.5,1.9,3.1,0.2,-2.3,-0.5,1.0,1.8,2.4,0.3,-1.5,-2.6,-3.2];

// ---- row 4: 錯誤且低可信度 ----
var l_r4_c3 = [-1.8,0.6,3.4,-0.5,-4.1,-1.2,1.6,3.8,5.2,0.4,-2.9,-0.6,0.7,-1.9,-4.8,0.2,3.9,1.2,-1.2,2.4,
  6.1,1.1,-3.3,-0.4,2.2,-1.3,-5.0,-0.6,4.6,1.5,-0.9,-4.8,-9.1,-2.1,3.0,0.4,-2.4,1.3,5.5,0.8,
  -3.7,-0.9,1.4,2.6,4.3,8.8,13.6,2.1,-7.6,-8.9,-9.75,-2.4,2.6,-0.2,-3.2,1.1,5.9,1.6,-1.5,0.6,
  3.1,-0.5,-4.4,-1.3,1.0,3.5,6.3,1.4,-2.7,-0.9,0.4,-2.2,-5.3,-0.6,3.7,1.0,-1.1,1.8,4.8,0.7,
  -3.0,-0.8,2.0,-1.4,-4.9,0.2,5.7,1.6,-0.8,0.9,2.9,-0.2,-3.6,-1.0,1.3,-2.0,-5.6,-0.5,4.0,1.1,
  -1.9,0.6,3.5,-0.2,-4.2,-1.5,0.9,3.7,6.5,1.8,-2.3,-0.4,1.6,-1.4,-4.6,-0.5,3.2,1.1,-0.4,2.2,
  5.0,-0.3,-6.8,-1.8,2.3,-0.1,-3.1,1.9,7.2,2.1,-2.0,-0.6,0.6,-2.4,-5.5,-0.6,4.4,-1.2,-7.9,-2.1,
  2.8,6.8,11.9,0.4,-11.0,-3.1,4.1,-0.4,-6.0,0.5,7.6,1.8,-3.4,-0.5,2.2,-4.8,-12.3,-2.8,5.3,0.6,
  -4.0,1.6,8.3,2.4,-2.6,-5.1,-8.4,-0.6,6.2,9.8,15.3,1.9,-10.8,-3.2,3.5,-0.9,-6.3,-0.3,7.0,1.9,
  -2.9,0.4,4.7,-1.8,-10.2,-2.7,2.4,-0.6,-5.8,0.7,8.1,2.2,-3.0,2.8,9.5,1.6,-4.5,-1.2,1.8,-1.9,
  -6.4,-0.8,5.1,1.2,-2.2,2.1,7.4,1.4,-4.9,-1.3,1.0,-1.2,-3.7,0.9,6.0,1.4,-2.6,0.4,3.3,0.5,1.5];
var r_r4_c3 = [1.2,-0.4,-2.6,0.9,4.3,6.2,8.7,0.4,-8.05,-2.1,2.1,-0.3,-3.5,0.8,5.4,1.6,-1.0,1.1,3.2,-0.6,
  -4.6,-1.2,1.9,0.2,-2.2,1.6,5.8,0.9,-3.0,2.3,7.8,1.7,-1.6,0.5,2.9,-0.8,-4.8,-0.6,3.6,1.1,
  -0.7,1.8,4.9,0.3,-3.9,-1.1,1.3,-1.8,-5.4,-0.7,3.0,0.4,-2.2,1.5,6.1,1.8,-1.4,0.2,2.4,-0.9,
  -4.2,-1.4,0.8,2.9,5.3,0.6,-2.8,0.2,3.9,0.9,-1.0,-2.8,-4.7,-0.6,2.7,3.9,5.0,0.4,-3.4,-0.8,
  1.6,-0.2,-2.1,1.0,4.5,-0.1,-5.0,-1.4,2.0,0.6,-0.6,1.5,3.8,-0.3,-3.7,-0.9,1.1,3.2,5.6,0.9,
  -2.4,-0.6,0.5,-1.6,-4.4,-0.3,3.4,0.8,-1.3,1.6,4.7,0.2,-3.1,-0.5,2.3,-1.2,-5.2,-1.1,1.0,-4.6,
  -12.7,-3.1,3.6,0.6,-1.8,1.4,4.9,0.5,-3.8,-0.8,1.7,-4.5,-13.3,-3.4,2.8,0.2,-2.5,1.2,5.2,1.3,
  -1.6,0.7,3.1,-0.3,-4.6,-1.2,0.9,3.2,5.5,0.6,-3.3,-0.7,1.8,-0.2,-2.0,1.1,4.2,-0.4,-5.4,-1.3,
  2.6,0.7,-0.8,1.4,3.7,-0.2,-4.1,-1.0,1.4,3.6,6.0,1.2,-2.9,-0.6,0.6,-1.8,-4.5,-0.7,3.5,0.8,
  -1.2,1.6,4.6,0.3,-3.6,-0.7,2.0,0.6,-0.5,2.3,5.1,0.4,-4.0,-1.1,1.5,-0.6,-2.7,0.5,3.9,-0.4,
  -5.0,-1.3,2.3,0.4,-1.1,1.6,4.4,0.5,-3.2,-0.9,0.7,2.8,5.3,0.6,-2.4,-0.3,1.9,-0.8,-3.8,2.0,8.1];
var l_r4_c4 = [-1.2,0.3,1.5,-0.4,-2.6,-0.7,0.8,1.6,2.2,0.1,-1.9,-0.6,0.3,-1.2,-3.0,-0.4,1.7,0.5,-0.5,0.9,
  2.4,0.2,-2.2,-0.5,0.9,-0.3,-1.4,0.8,2.9,0.6,-0.6,1.8,4.1,0.5,-2.7,-0.6,1.2,-0.1,-1.6,0.7,
  3.0,0.4,-0.9,-2.0,-2.8,-0.2,1.6,0.5,-0.2,1.2,2.7,-0.4,-3.2,-0.9,0.7,1.4,1.9,-0.5,-2.4,-0.7,
  0.5,1.6,2.3,0.2,-1.7,-0.3,0.9,-1.1,-3.5,-0.6,1.4,2.3,2.8,0.6,-1.0,-3.3,-4.9,-1.6,0.6,-0.6,
  -2.0,-0.1,1.8,-0.5,-3.1,-4.6,-5.8,-2.0,0.4,1.6,2.5,0.3,-1.5,-0.2,0.8,-0.8,-2.6,-0.3,1.9,0.5,
  -0.7,0.9,2.6,0.1,-2.3,-0.6,0.5,1.2,1.7,-0.6,-3.0,-0.8,1.1,0.2,-0.9,0.7,2.4,0.2,-1.8,-0.4,
  0.7,-1.1,-2.9,-0.4,1.9,0.5,-0.4,1.3,3.1,0.2,-2.1,-0.5,0.9,-0.2,-1.3,0.6,2.2,-0.1,-2.7,0.4,
  4.2,1.0,-1.2,-0.2,0.5,-1.4,-3.2,-0.6,2.0,0.5,-0.8,0.4,1.5,2.6,3.4,0.2,-2.4,-0.8,0.3,-0.6,
  -1.7,0.4,2.6,0.8,-0.6,0.5,1.3,-1.0,-3.0,-0.8,0.9,1.6,2.1,4.1,5.9,1.2,-1.9,-0.5,0.6,-1.2,
  -2.8,-0.4,1.7,0.6,-0.3,1.4,2.5,0.1,-2.0,-0.5,0.8,-0.3,-1.4,0.5,2.2,-0.4,-2.9,0.2,3.2,0.9,
  -1.0,0.3,1.4,-0.6,-2.5,-0.8,0.6,1.8,2.7,0.4,-1.6,-0.5,0.4,-0.9,-2.2,-0.2,1.8,0.3,-1.1,-0.7,-0.5];
var r_r4_c4 = [-3.7,-0.6,2.2,0.5,-1.4,2.3,6.6,1.2,-2.1,0.4,3.0,-0.2,-3.3,-1.8,-5.25,-1.2,1.8,0.5,-0.8,1.1,
  3.2,0.4,-2.7,-0.8,0.9,1.8,2.5,-0.5,-3.6,-0.9,1.1,0.2,-0.4,1.5,3.4,0.3,-2.5,-0.6,0.6,1.7,
  2.8,0.2,-1.9,-0.5,0.3,-1.2,-3.0,-0.4,1.7,2.6,3.6,0.5,-2.2,-0.4,0.8,-0.3,-1.2,0.9,2.9,-0.2,
  -3.1,-0.8,1.0,1.8,2.4,0.3,-1.5,-0.4,0.2,-1.1,-2.8,0.1,3.1,0.9,-0.6,0.5,1.6,3.0,4.4,0.8,
  -2.3,-0.5,0.7,-1.2,-3.4,-0.4,2.0,0.5,-0.9,1.1,3.0,0.3,-1.8,-0.4,0.4,1.6,2.6,-0.1,-2.9,-0.6,
  1.2,0.3,-0.5,1.4,3.3,0.2,-2.4,-0.5,0.8,-1.2,-3.5,-0.6,1.9,2.4,2.7,0.5,-1.3,-0.3,0.5,-0.9,
  -2.6,0.1,3.1,0.8,-0.7,0.4,1.4,-0.8,-3.2,-0.2,2.3,0.4,-1.0,-0.1,0.6,-0.9,-2.7,0.2,3.5,0.7,
  -1.6,-0.2,0.9,1.6,2.2,-0.2,-2.9,-4.4,-5.5,-1.4,1.7,0.3,-0.8,0.8,2.6,-0.1,-3.0,-0.8,1.0,2.1,
  3.2,0.4,-2.0,-0.6,0.5,-0.5,-1.4,0.6,2.4,-0.6,-4.1,-1.2,1.3,2.2,3.0,0.1,-2.6,-0.7,0.8,-0.4,
  -1.9,0.4,2.9,0.8,-0.6,0.5,1.6,-0.6,-3.1,-0.2,2.2,0.5,-0.9,1.2,3.4,0.4,-2.3,-0.8,0.4,1.3,
  2.5,-0.2,-3.3,-0.9,1.2,0.2,-0.7,1.1,2.8,0.1,-2.1,-0.6,0.6,-1.1,-2.9,-0.5,1.5,2.6,3.3,2.0,1.0];
var l_r4_cz = [-1.0,0.6,2.4,0.3,-2.0,-0.5,0.9,2.0,3.1,0.4,-1.5,-0.4,0.2,1.4,2.6,0.2,-2.8,-0.6,1.3,2.8,
  4.7,1.1,-1.2,-0.2,0.5,-1.0,-2.6,-0.3,2.0,0.6,-0.4,1.4,3.3,0.5,-1.9,-0.3,0.8,-1.1,-3.0,-0.5,
  1.6,2.4,2.9,0.2,-2.2,-0.6,0.4,-0.6,-1.5,0.5,2.5,0.6,-0.8,0.4,1.9,-0.8,-3.3,-1.0,0.7,1.5,
  2.2,0.1,-1.6,0.8,3.5,0.9,-0.5,0.3,1.0,-0.7,-2.4,-0.3,2.7,0.6,-1.1,-0.2,0.3,-1.2,-2.9,-0.6,
  1.5,0.2,-0.9,-2.4,-3.8,-4.6,-5.0,-6.0,-7.1,-3.8,-1.6,0.6,2.3,0.7,-0.6,0.4,1.2,-0.4,-2.5,-0.2,
  3.0,0.6,-1.3,-0.3,0.6,-0.8,-2.2,0.1,2.6,1.0,0.1,-0.9,-1.8,0.8,3.4,1.1,-0.7,0.2,1.1,-0.8,
  -2.7,-0.3,2.0,0.7,-0.4,1.6,3.7,0.9,-1.5,-0.3,0.8,2.9,5.15,1.2,-2.1,-0.4,1.3,0.3,-0.9,0.9,
  2.8,0.1,-2.4,-0.8,0.6,2.0,3.2,0.8,-1.1,0.2,1.7,-0.5,-2.9,-0.7,0.9,1.8,2.5,0.4,-1.4,-0.5,
  0.4,2.1,3.6,0.6,-2.0,-0.4,1.2,0.2,-0.6,0.9,2.4,3.6,4.8,1.1,-1.7,-0.6,0.5,-1.1,-2.6,-0.3,
  2.1,0.8,-0.3,1.3,3.0,0.4,-1.9,-0.7,0.7,-1.0,-2.8,-0.4,2.6,0.7,-0.8,0.2,1.4,2.7,3.9,1.0,
  -1.2,2.1,5.5,1.4,-2.3,-0.6,0.9,2.2,3.1,0.6,-1.5,0.2,2.0,3.3,4.2,-0.8,-5.25,-1.1,2.9,-0.2,-3.4];
var r_r4_cz = [3.0,0.5,-1.4,0.4,2.2,-0.3,-2.8,-0.9,0.6,-2.8,-6.6,-1.9,1.9,0.2,-1.0,1.2,3.3,0.2,-2.4,-0.7,
  0.8,1.9,2.7,-1.8,-7.4,-2.2,1.4,-0.2,-2.0,0.6,3.5,0.9,-0.6,0.6,1.8,-0.6,-3.1,-0.5,2.4,0.6,
  -0.9,0.3,1.5,3.4,5.1,0.9,-2.3,-0.8,0.4,1.8,3.0,0.5,-1.7,0.2,2.2,-0.4,-3.4,-1.0,1.0,1.9,
  2.9,0.6,-1.5,-0.3,0.6,2.4,3.8,0.5,-2.6,-0.5,1.2,4.0,7.05,2.6,-0.4,1.1,2.5,4.2,5.6,1.6,
  -2.1,-0.2,1.7,0.4,-0.8,1.2,3.1,-0.2,-3.5,-1.1,0.9,1.8,2.4,0.2,-1.9,-0.7,0.3,1.8,3.2,0.2,
  -2.7,-0.6,1.3,0.3,-0.5,1.1,2.6,-0.1,-3.0,-0.9,0.7,1.9,2.9,0.4,-1.6,-0.3,1.1,-0.5,-2.3,0.4,
  3.4,1.1,-0.9,0.4,1.8,-0.3,-2.5,-0.8,0.5,1.7,2.8,0.6,-1.2,1.1,3.6,0.3,-2.9,-0.8,1.0,0.3,
  -0.4,0.9,2.3,-0.4,-3.3,-0.7,1.6,2.4,3.0,0.4,-1.8,-0.5,0.6,-0.9,-2.6,-0.2,2.1,0.6,-0.7,1.2,
  3.1,0.3,-2.2,-0.5,1.2,0.3,-0.3,1.2,2.7,-0.1,-3.1,-0.8,1.4,0.7,0.2,1.8,3.3,0.4,-2.0,-0.3,
  1.6,0.2,-0.8,0.7,2.4,3.8,5.25,1.1,-1.3,-0.2,0.9,-0.7,-2.5,-3.9,-5.15,-1.4,2.0,0.4,-1.1,1.1,
  3.5,0.4,-2.4,-0.6,1.0,1.8,2.6,0.3,-1.7,-0.6,0.3,2.1,3.8,0.4,-2.2,-0.5,1.3,0.2,-0.9,-0.1,0.75];

var leftSeries = [l_r1_c3, l_r1_c4, l_r1_cz, l_r2_c3, l_r2_c4, l_r2_cz,
                  l_r3_c3, l_r3_c4, l_r3_cz, l_r4_c3, l_r4_c4, l_r4_cz];
var rightSeries = [r_r1_c3, r_r1_c4, r_r1_cz, r_r2_c3, r_r2_c4, r_r2_cz,
                   r_r3_c3, r_r3_c4, r_r3_cz, r_r4_c3, r_r4_c4, r_r4_cz];

// layout
var W = 2970, H = 2145;
var colX = [92.5, 1080, 2057], colW = [905.5, 904, 905.5];
var rowY = [99, 604.3, 1109.6, 1615], rowH = 447;
var colorL = "#23766c", colorR = "#d04b6c";
var phaseColors = ["#f0f2f5", "#fcf3ed", "#f1f6f3", "#f1f4f9"];

var svg = d3.select("#chart").append("svg")
  .attr("width", W).attr("height", H);
svg.append("rect").attr("width", W).attr("height", H).attr("fill", "#fff");

svg.append("text")
  .attr("x", W / 2).attr("y", 46)
  .attr("text-anchor", "middle")
  .attr("font-size", 40).attr("font-weight", "bold").attr("fill", "#111")
  .text("sub1 EEGNet test 四類 trial 平均波形");

function fmt(ticks){
  var dec = ticks.some(function(t){ return t % 1 !== 0; });
  return function(v){ return (dec ? v.toFixed(1) : String(v)); };
}

for (var r = 0; r < 4; r++) {
  for (var c = 0; c < 3; c++) {
    var k = r * 3 + c;
    var w = colW[c], h = rowH;
    var g = svg.append("g").attr("transform", "translate(" + colX[c] + "," + rowY[r] + ")");

    var x = d3.scaleLinear().domain([-1.775, 4.275]).range([0, w]);
    var y = d3.scaleLinear().domain(yLimits[k]).range([h, 0]);

    var clipId = "clip" + k;
    g.append("clipPath").attr("id", clipId)
      .append("rect").attr("width", w).attr("height", h);
    var plot = g.append("g").attr("clip-path", "url(#" + clipId + ")");

    // phase shading
    for (var p = 0; p < 4; p++) {
      plot.append("rect")
        .attr("x", x(phaseEdges[p])).attr("y", 0)
        .attr("width", x(phaseEdges[p + 1]) - x(phaseEdges[p])).attr("height", h)
        .attr("fill", phaseColors[p]);
    }
    // grid
    plot.selectAll(".grid").data(yTicks[k]).enter().append("line")
      .attr("x1", 0).attr("x2", w)
      .attr("y1", function(d){ return y(d); }).attr("y2", function(d){ return y(d); })
      .attr("stroke", "#e2e8f0").attr("stroke-width", 2.2);

    var pairs = [[leftSeries[k], semL[k], colorL], [rightSeries[k], semR[k], colorR]];
    pairs.forEach(function(pr){
      var s = pr[1];
      var area = d3.area()
        .x(function(d, i){ return x(times[i]); })
        .y0(function(d){ return y(d - s); })
        .y1(function(d){ return y(d + s); });
      plot.append("path").attr("d", area(pr[0]))
        .attr("fill", pr[2]).attr("fill-opacity", 0.12);
    });
    pairs.forEach(function(pr){
      var line = d3.line()
        .x(function(d, i){ return x(times[i]); })
        .y(function(d){ return y(d); });
      plot.append("path").attr("d", line(pr[0]))
        .attr("fill", "none").attr("stroke", pr[2])
        .attr("stroke-width", 3.6).attr("stroke-linejoin", "round");
    });

    // stimulus onset
    plot.append("line")
      .attr("x1", x(0)).attr("x2", x(0)).attr("y1", 0).attr("y2", h)
      .attr("stroke", "#222").attr("stroke-width", 1.6);

    // frame
    g.append("rect").attr("width", w).attr("height", h)
      .attr("fill", "none").attr("stroke", "#111").attr("stroke-width", 2.4);

    // axes
    var ya = g.append("g").call(d3.axisLeft(y).tickValues(yTicks[k])
      .tickFormat(fmt(yTicks[k])).tickSize(9).tickPadding(6));
    ya.select(".domain").remove();
    ya.selectAll("line").attr("stroke", "#111").attr("stroke-width", 2);
    ya.selectAll("text").attr("font-size", 23).attr("fill", "#111")
      .style("font-family", "'Noto Sans CJK TC', sans-serif");

    var xa = g.append("g").attr("transform", "translate(0," + h + ")")
      .call(d3.axisBottom(x).tickValues(xTicks).tickSize(9).tickPadding(6)
        .tickFormat(function(v){ return r === 3 ? String(v) : ""; }));
    xa.select(".domain").remove();
    xa.selectAll("line").attr("stroke", "#111").attr("stroke-width", 2);
    xa.selectAll("text").attr("font-size", 23).attr("fill", "#111")
      .style("font-family", "'Noto Sans CJK TC', sans-serif");

    // subplot title
    g.append("text").attr("x", w / 2).attr("y", -12)
      .attr("text-anchor", "middle").attr("font-size", 25.5)
      .attr("font-weight", "bold").attr("fill", "#111")
      .text(categories[r] + " | " + channels[c]);

    if (c === 0) {
      g.append("text")
        .attr("transform", "translate(" + (-56) + "," + (h / 2) + ") rotate(-90)")
        .attr("text-anchor", "middle").attr("font-size", 23).attr("fill", "#111")
        .text("Amplitude");
    }
    if (r === 3) {
      g.append("text").attr("x", w / 2).attr("y", h + 70)
        .attr("text-anchor", "middle").attr("font-size", 23).attr("fill", "#111")
        .text("Time (sec)");
    }
    if (k === 2) {
      var lg = g.append("g").attr("transform", "translate(" + (w - 195) + ",31)");
      [colorL, colorR].forEach(function(col, j){
        lg.append("line").attr("x1", 0).attr("x2", 49)
          .attr("y1", j * 37).attr("y2", j * 37)
          .attr("stroke", col).attr("stroke-width", 4);
        lg.append("text").attr("x", 67).attr("y", j * 37)
          .attr("dominant-baseline", "central")
          .attr("font-size", 23).attr("fill", "#222")
          .text(seriesNames[j]);
      });
    }
  }
}
</script>
</body>
</html>
